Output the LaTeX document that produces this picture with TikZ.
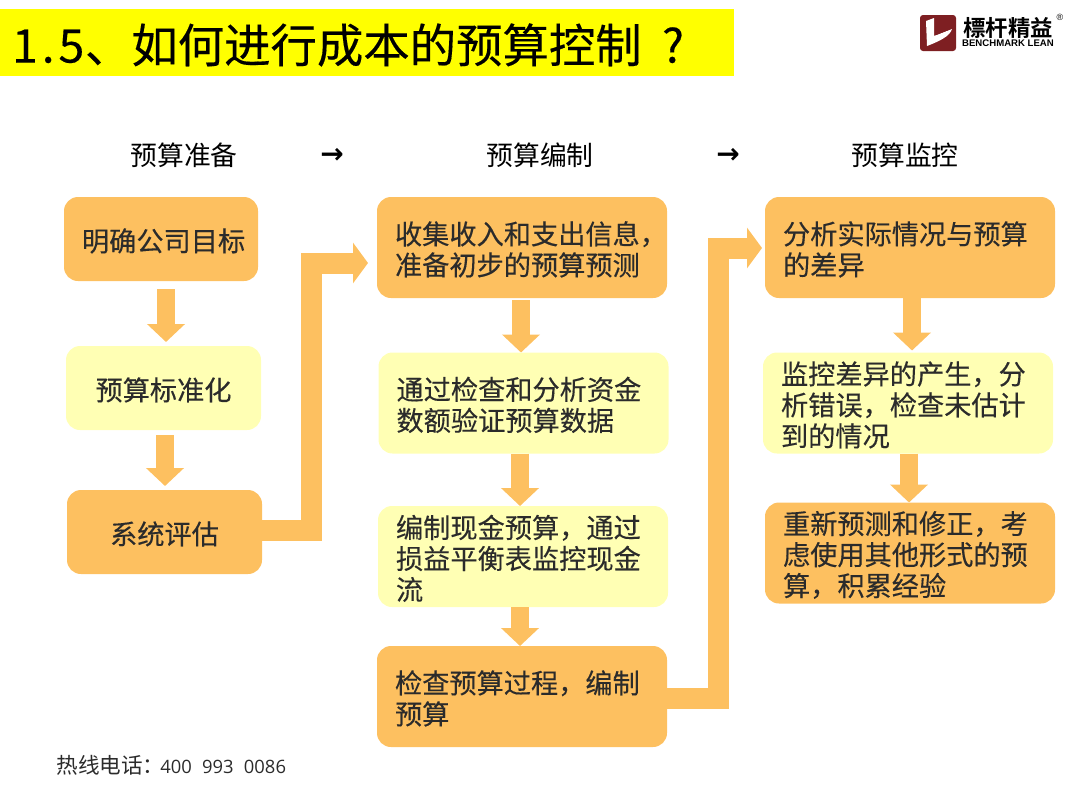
\documentclass[tikz,border=0pt]{standalone}
\usepackage{fontspec}
\setmainfont{Noto Sans CJK SC}
\newfontfamily\cjkbold[FakeBold=0.25]{Noto Sans CJK SC}
\newfontfamily\logofont[BoldFont=Noto Sans CJK SC Bold]{Noto Sans CJK SC}
\newfontfamily\latinfont{Liberation Sans}
\newfontfamily\digitfont{Open Sans}
\newfontfamily\arrowfont{DejaVu Sans}
\usetikzlibrary{arrows.meta}
\definecolor{titleyellow}{HTML}{FFFF00}
\definecolor{boxorange}{HTML}{FDC060}
\definecolor{boxpale}{HTML}{FFFFB4}
\definecolor{logored}{HTML}{7E1F22}
\definecolor{boxtext}{HTML}{2B2B2B}
\newcommand\cma{^^^^ff0c}
\newcommand\cln{^^^^ff1a}
\tikzset{
  box/.style={rounded corners=7pt, outer sep=0pt, inner xsep=9pt, inner ysep=0pt,
    align=left, text=boxtext, font=\cjkbold\fontsize{13.6}{15.5}\selectfont,
    text height=13.4pt},
  wide/.style={box, text width=127pt, minimum height=50.5pt},
  narrow/.style={box, align=center, text width=79pt, minimum height=42pt},
  orangebox/.style={fill=boxorange},
  palebox/.style={fill=boxpale},
  downarrow/.style={draw=boxorange, line width=9pt,
    -{Triangle[width=18.5pt,length=9pt,fill=boxorange]}},
  elbowarrow/.style={draw=boxorange, line width=10.5pt, line join=miter,
    -{Triangle[width=20pt,length=7.5pt,fill=boxorange]}},
  heading/.style={font=\fontsize{13.4}{15}\selectfont},
  stepmark/.style={font=\arrowfont\bfseries\fontsize{14}{16}\selectfont}
}
\begin{document}
\begin{tikzpicture}[x=0.5pt, y=-0.5pt]
\useasboundingbox (0,0) rectangle (1080,810);

% title bar
\fill[titleyellow] (0,9) rectangle (734,76);
\node[anchor=west, inner sep=0pt, font=\cjkbold\fontsize{23.2}{26}\selectfont] (title) at (13,45)
  {\makebox[11.6pt]{1}\makebox[11.6pt]{.}\makebox[11.6pt]{5}\hspace{1pt}、如何进行成本的预算控制\hspace{4pt}\makebox[23.2pt]{?}};

% logo
\fill[logored, rounded corners=1.5pt] (920,15) rectangle (956,51);
\fill[white] (926,21) -- (934,18) -- (934,36) -- (952,29) .. controls (950,36) and (940,41) .. (927,46) -- cycle;
\fill[logored] (936,28) .. controls (944,27) and (949,27) .. (951,29) -- (936,35) -- cycle;
\node[inner sep=0pt, font=\logofont\bfseries\fontsize{11.2}{12}\selectfont] (logoname) at (1008,28) {標杆精益};
\node[inner sep=0pt, font=\latinfont\bfseries\fontsize{4.8}{5}\selectfont] (logolatin) at (1008,43.5) {BENCHMARK LEAN};
\node[inner sep=0pt, font=\latinfont\fontsize{4.5}{5}\selectfont] (logomark) at (1060,17) {®};

% headings
\node[heading] (head1) at (184,155) {预算准备};
\node[stepmark] (mark1) at (332,156) {→};
\node[heading] (head2) at (540,155) {预算编制};
\node[stepmark] (mark2) at (728,156) {→};
\node[heading] (head3) at (905,155) {预算监控};

% first column
\node[narrow, orangebox, minimum width=97pt] (a1) at (161,239) {明确公司目标};
\node[narrow, palebox, minimum width=97.5pt] (a2) at (163.5,388) {预算标准化};
\node[narrow, orangebox, minimum width=97.5pt] (a3) at (164.5,532) {系统评估};

% second column
\node[wide, orangebox] (b1) at (522,247.5) {收集收入和支出信息\cma\\准备初步的预算预测};
\node[wide, palebox] (b2) at (523.5,403) {通过检查和分析资金\\数额验证预算数据};
\node[wide, palebox] (b3) at (523,556.5) {编制现金预算\cma 通过\\损益平衡表监控现金\\流};
\node[wide, orangebox] (b4) at (522,696.5) {检查预算过程\cma 编制\\预算};

% third column
\node[wide, orangebox] (c1) at (910,247.5) {分析实际情况与预算\\的差异};
\node[wide, palebox] (c2) at (908,403) {监控差异的产生\cma 分\\析错误\cma 检查未估计\\到的情况};
\node[wide, orangebox] (c3) at (910,553) {重新预测和修正\cma 考\\虑使用其他形式的预\\算\cma 积累经验};

% arrows inside the columns
\draw[downarrow, shorten <=4pt, shorten >=2pt] ([xshift=2.5pt]a1.south) -- ([xshift=1.25pt]a2.north);
\draw[downarrow, shorten <=2.5pt, shorten >=2pt] ([xshift=0.75pt]a2.south) -- ([xshift=0.25pt]a3.north);
\draw[downarrow, shorten <=1pt] ([xshift=-0.5pt]b1.south) -- ([xshift=-1.25pt]b2.north);
\draw[downarrow] ([xshift=-1.75pt]b2.south) -- ([xshift=-1.5pt]b3.north);
\draw[downarrow] ([xshift=-1.5pt]b3.south) -- ([xshift=-1pt]b4.north);
\draw[downarrow, shorten >=1pt] ([xshift=1pt]c1.south) -- ([xshift=2pt]c2.north);
\draw[downarrow] ([xshift=0.5pt]c2.south) -- ([xshift=-0.5pt]c3.north);

% arrows between the columns
\coordinate (bend1) at (311,263);
\coordinate (bend2) at (718,248);
\draw[elbowarrow, shorten >=4.5pt] ([yshift=1pt]a3.east) -| (bend1) -- (bend1 -| b1.west);
\draw[elbowarrow, shorten >=1.5pt] ([yshift=-0.75pt]b4.east) -| (bend2) -- (bend2 -| c1.west);

% hot line
\node[anchor=west, inner sep=0pt, font=\fontsize{10.8}{12}\selectfont, text=boxtext] (hotline) at (56,765)
  {热线电话\cln\hspace{-2pt}{\digitfont\fontsize{9.2}{12}\selectfont 400\hspace{5.1pt}993\hspace{5.1pt}0086}};
\end{tikzpicture}
\end{document}
